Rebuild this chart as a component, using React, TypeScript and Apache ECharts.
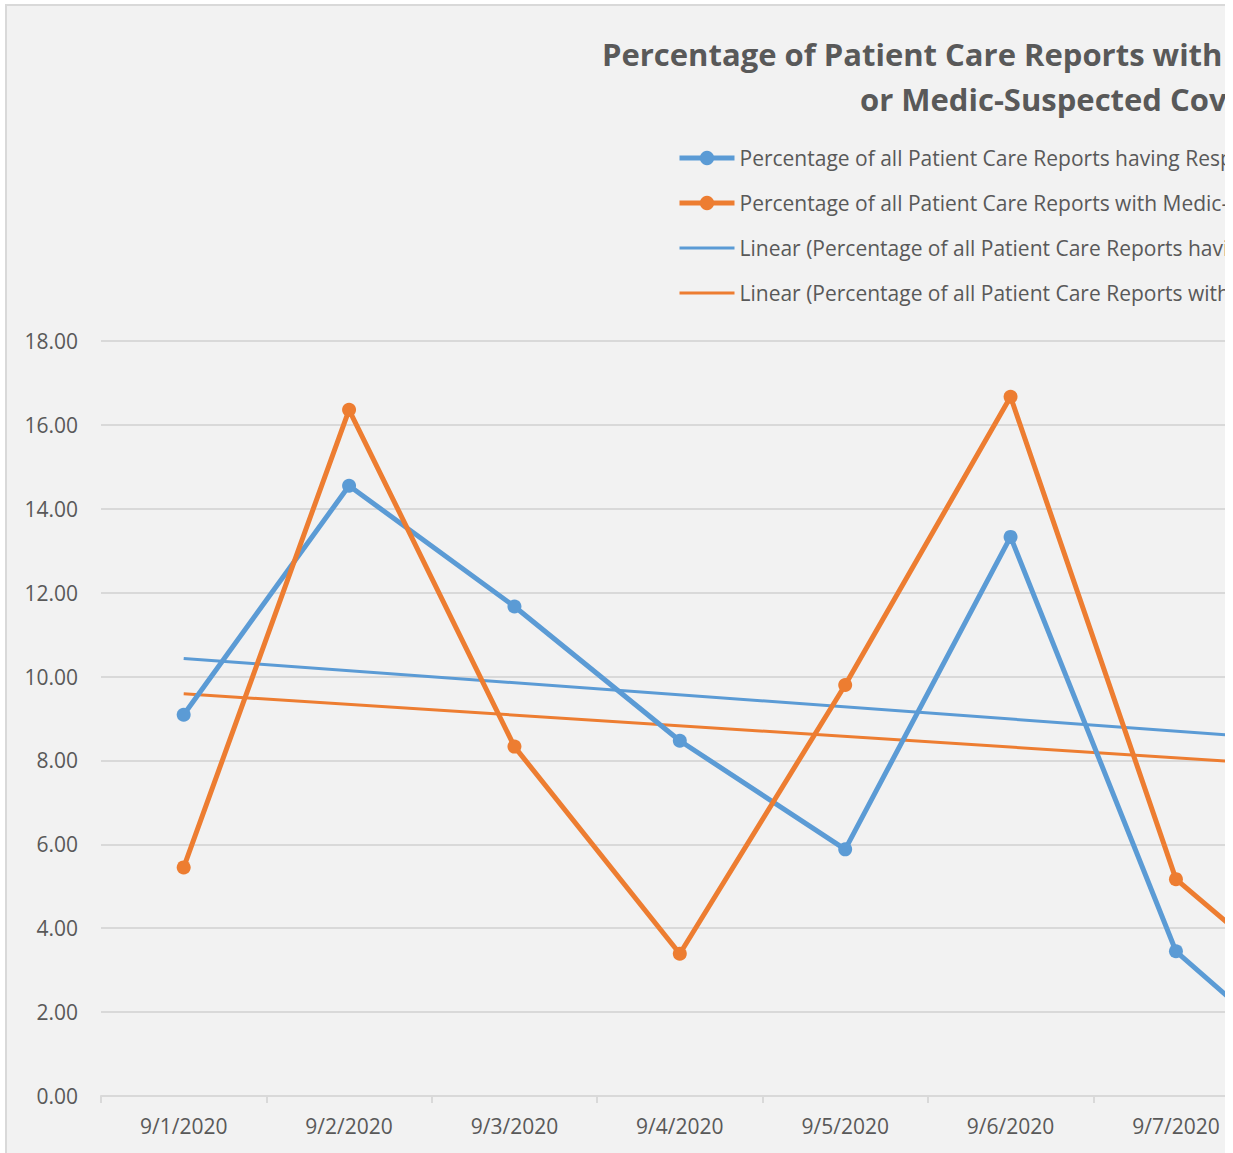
import React, { useEffect, useRef } from "react";
import * as echarts from "echarts";

const categories = ["9/1/2020", "9/2/2020", "9/3/2020", "9/4/2020", "9/5/2020", "9/6/2020", "9/7/2020", "9/8/2020"];
const respiratoryValues = [9.09, 14.55, 11.67, 8.47, 5.88, 13.33, 3.45, 0.0];
const covidValues = [5.45, 16.36, 8.33, 3.39, 9.8, 16.67, 5.17, 1.82];
// linear trend line values at the first and last category
const respiratoryTrend = [10.43, 8.41];
const covidTrend = [9.59, 7.81];

const titleLine1 = "Percentage of Patient Care Reports with Respiratory Symptoms";
const titleLine2 = "or Medic-Suspected Covid-19";

const seriesNames = [
  "Percentage of all Patient Care Reports having Respiratory Symptoms",
  "Percentage of all Patient Care Reports with Medic-Suspected Covid-19",
  "Linear (Percentage of all Patient Care Reports having Respiratory Symptoms)",
  "Linear (Percentage of all Patient Care Reports with Medic-Suspected Covid-19)",
];

const BLUE = "#5b9bd5";
const ORANGE = "#ed7d31";
const TEXT = "#595959";
const GRID = "#d9d9d9";
const FONT = "'Open Sans', 'Noto Sans', sans-serif";

function trendData(ends: number[], n: number) {
  const arr: (number | null)[] = new Array(n).fill(null);
  arr[0] = ends[0];
  arr[n - 1] = ends[1];
  return arr;
}

export default function App() {
  const ref = useRef<HTMLDivElement>(null);
  useEffect(() => {
    if (!ref.current) return;
    const chart = echarts.init(ref.current, undefined, { renderer: "svg" });
    const n = categories.length;
    const titleStyle = { fontFamily: FONT, fontSize: 31, fontWeight: "bold", color: TEXT, lineHeight: 40 };
    chart.setOption({
      animation: false,
      backgroundColor: "#f2f2f2",
      textStyle: { fontFamily: FONT },
      title: [
        { text: titleLine1, left: 595, top: 28, padding: 0, textStyle: titleStyle },
        { text: titleLine2, left: 853, top: 73, padding: 0, textStyle: titleStyle },
      ],
      legend: {
        orient: "vertical",
        left: 670,
        top: 140,
        padding: 0,
        itemWidth: 55,
        itemHeight: 18,
        itemGap: 21,
        textStyle: { fontFamily: FONT, fontSize: 21, color: TEXT, lineHeight: 24 },
        data: [
          { name: seriesNames[0], lineStyle: { width: 5 } },
          { name: seriesNames[1], lineStyle: { width: 5 } },
          { name: seriesNames[2], lineStyle: { width: 3 }, itemStyle: { opacity: 0 } },
          { name: seriesNames[3], lineStyle: { width: 3 }, itemStyle: { opacity: 0 } },
        ],
      },
      grid: { left: 94, top: 335, width: 1323, height: 755 },
      xAxis: {
        type: "category",
        data: categories,
        boundaryGap: true,
        axisLine: { lineStyle: { color: GRID, width: 2 } },
        axisTick: { show: true, length: 7, lineStyle: { color: GRID, width: 2 } },
        axisLabel: { fontFamily: FONT, fontSize: 21, color: TEXT, margin: 19 },
      },
      yAxis: {
        type: "value",
        min: 0,
        max: 18,
        interval: 2,
        axisLine: { show: false },
        axisTick: { show: false },
        splitLine: { lineStyle: { color: GRID, width: 2 } },
        axisLabel: {
          fontFamily: FONT,
          fontSize: 21,
          color: TEXT,
          margin: 23,
          formatter: (v: number) => v.toFixed(2),
        },
      },
      series: [
        {
          name: seriesNames[0],
          type: "line",
          data: respiratoryValues,
          symbol: "circle",
          symbolSize: 14,
          color: BLUE,
          lineStyle: { width: 5, color: BLUE },
          itemStyle: { color: BLUE },
          z: 3,
        },
        {
          name: seriesNames[1],
          type: "line",
          data: covidValues,
          symbol: "circle",
          symbolSize: 14,
          color: ORANGE,
          lineStyle: { width: 5, color: ORANGE },
          itemStyle: { color: ORANGE },
          z: 3,
        },
        {
          name: seriesNames[2],
          type: "line",
          data: trendData(respiratoryTrend, n),
          connectNulls: true,
          symbol: "none",
          color: BLUE,
          lineStyle: { width: 3, color: BLUE },
          itemStyle: { color: BLUE },
          z: 2,
        },
        {
          name: seriesNames[3],
          type: "line",
          data: trendData(covidTrend, n),
          connectNulls: true,
          symbol: "none",
          color: ORANGE,
          lineStyle: { width: 3, color: ORANGE },
          itemStyle: { color: ORANGE },
          z: 2,
        },
      ],
    });
    return () => chart.dispose();
  }, []);

  return (
    <div
      style={{
        position: "absolute",
        left: 5,
        top: 4,
        width: 1220,
        height: 1149,
        overflow: "hidden",
        borderLeft: "2px solid #d9d9d9",
        borderTop: "2px solid #d9d9d9",
        boxSizing: "border-box",
        background: "#f2f2f2",
      }}
    >
      <div ref={ref} style={{ width: 1600, height: 1200 }} />
    </div>
  );
}
